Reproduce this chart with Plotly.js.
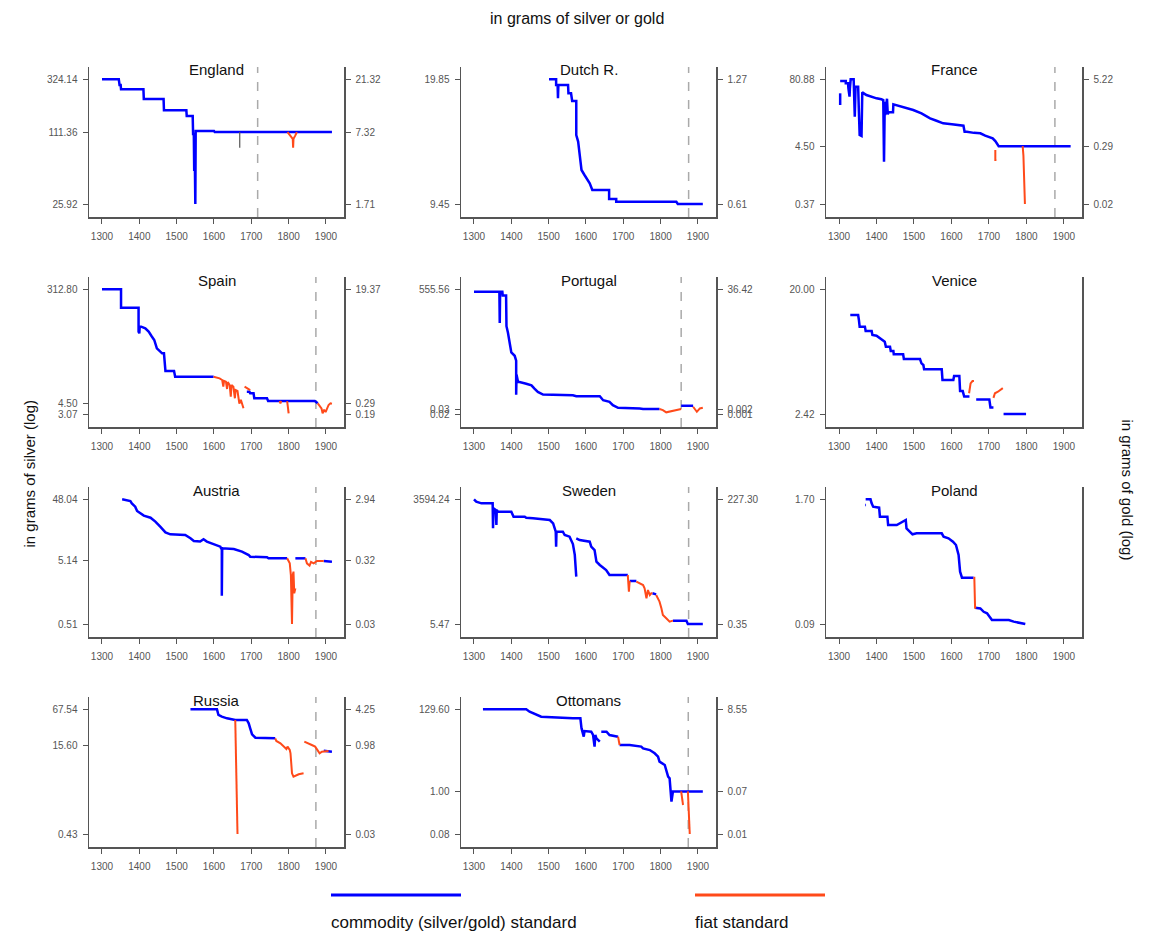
<!DOCTYPE html>
<html><head><meta charset="utf-8">
<script src="https://cdn.plot.ly/plotly-3.0.1.min.js"></script>
<style>html,body{margin:0;padding:0;background:#fff}#chart{width:1153px;height:939px}</style>
</head><body><div id="chart"></div>
<script>
// ---------- DATA (year, grams of silver) ----------
const years = [1300,1400,1500,1600,1700,1800,1900];

const englandCommodity = [[1300,324.14],[1345,324.14],[1347,289],[1350,289],[1351,265],[1411,265],[1412,218],[1465,218],[1466,173],[1526,173],[1527,154],[1543,154],[1544,107],[1546,107],[1547,52],[1549,52],[1550,25.92],[1551,114],[1600,114],[1602,111.36],[1916,111.36]];
const englandOther = [[1669,111.36],[1669,81]];
const englandFiat = [[1797,111.36],[1805,104],[1811,97],[1812,81],[1813,97],[1818,104],[1822,111.36]];
const englandSilverTicks = [324.14,111.36,25.92];
const englandGoldTicks = ['21.32','7.32','1.71'];

const dutchCommodity = [[1501,19.85],[1520,19.85],[1520,19.2],[1524,19.2],[1525,17.74],[1526,19.2],[1552,19.2],[1553,18.27],[1560,18.27],[1563,17.45],[1574,17.45],[1574,14.25],[1579,13.7],[1585,12.16],[1588,11.57],[1596,11.23],[1603,10.97],[1610,10.69],[1617,10.27],[1662,10.27],[1662,9.73],[1681,9.73],[1681,9.58],[1842,9.58],[1846,9.45],[1913,9.45]];
const dutchFiat = [];
const dutchSilverTicks = [19.85,9.45];
const dutchGoldTicks = ['1.27','0.61'];

const franceCommodity = [[1303,44.2],[1303,26.7],null,[1303,75.2],[1318,75.2],[1318,68],[1324,68],[1325,54.8],[1328,38.2],[1329,54.8],[1331,80.88],[1339,80.88],[1340,54],[1342,16.1],[1344,58.9],[1351,58.9],[1353,20],[1355,7.3],[1360,7.0],[1361,20],[1362,46.1],[1373,41.1],[1385,38],[1400,35.6],[1413,34.1],[1418,33],[1420,2.3],[1422,30.8],[1423,17.3],[1428,35],[1430,17.8],[1432,19.4],[1444,19.4],[1445,27.5],[1460,25.5],[1480,23],[1498,21.5],[1520,18.5],[1543,15.0],[1560,13.5],[1578,12.1],[1601,11.6],[1632,10.9],[1635,8.43],[1641,8.43],[1660,8.0],[1677,7.84],[1690,7.09],[1703,6.5],[1710,6.32],[1717,5.6],[1722,5.0],[1726,4.5],[1918,4.5]];
const franceFiat = [[1717,3.82],[1717,2.48],[1720,2.48],null,[1790,4.5],[1792,3.0],[1796,0.37]];
const franceSilverTicks = [80.88,4.50,0.37];
const franceGoldTicks = ['5.22','0.29','0.02'];

const spainCommodity = [[1300,312.8],[1351,312.8],[1351,158.5],[1398,158.5],[1398,65],[1400,61.2],[1401,78.3],[1405,78.3],[1416,73.6],[1425,65.1],[1433,55],[1440,47.8],[1447,35.1],[1455,32],[1461,29.1],[1466,29.1],[1470,15.1],[1493,15.1],[1496,12.26],[1599,12.26],null,[1688,7.03],[1695,7.03],[1697,6.61],[1706,6.61],[1708,5.49],[1742,5.49],[1745,4.97],[1870,4.97],[1878,4.56]];
const spainFiat = [[1599,12.26],[1615,11.5],[1622,10.83],[1625,8.46],[1627,10.5],[1632,10.18],[1635,7.76],[1637,10],[1642,9.0],[1645,5.84],[1647,9],[1652,8.46],[1656,5.5],[1658,7.47],[1663,7.2],[1668,4.5],[1672,5.2],[1679,3.79],null,[1682,8.46],[1690,8.0],[1697,7.47],null,[1776,4.97],[1778,4.56],[1780,4.97],null,[1796,4.97],[1797,4.29],[1800,3.15],null,[1878,4.56],[1882,4.29],[1888,3.79],[1891,3.15],[1895,3.6],[1899,3.3],[1903,3.8],[1907,4.29],[1912,4.56],[1916,4.5]];
const spainSilverTicks = [312.80,4.50,3.07];
const spainGoldTicks = ['19.37','0.29','0.19'];

const portugalCommodity = [[1300,460],[1368,460],[1369,35],[1370,460],[1376,460],[1377,333],[1386,333],[1387,27],[1391,15.7],[1400,3.12],[1409,2.38],[1413,1.59],[1413,0.098],[1414,0.5],[1418,0.274],[1422,0.274],[1440,0.24],[1454,0.21],[1462,0.16],[1471,0.122],[1485,0.0984],[1556,0.0984],[1565,0.0932],[1574,0.0859],[1637,0.0859],[1646,0.0621],[1663,0.0543],[1672,0.0415],[1686,0.0334],[1744,0.0316],[1753,0.03],[1797,0.03],null,[1855,0.0393],[1887,0.0393]];
const portugalFiat = [[1797,0.03],[1806,0.0276],[1815,0.0229],[1824,0.0241],[1833,0.0255],[1842,0.0276],[1855,0.03],null,[1887,0.0362],[1894,0.0276],[1897,0.0241],[1901,0.0276],[1905,0.0316],[1913,0.0334]];
const portugalSilverTicks = [555.56,0.03,0.02];
const portugalGoldTicks = ['36.42','0.002','0.001'];

const veniceCommodity = [[1330,12.95],[1351,12.95],[1353,11.9],[1355,10.63],[1369,10.63],[1371,9.88],[1387,9.88],[1389,9.23],[1400,9.12],[1410,8.7],[1422,8.24],[1425,7.57],[1436,7.57],[1438,7.04],[1445,7.04],[1446,6.65],[1471,6.65],[1473,6.14],[1516,6.14],[1520,5.71],[1525,5.55],[1527,5.16],[1574,5.16],[1576,4.31],[1605,4.31],[1607,4.61],[1621,4.61],[1623,3.57],[1630,3.57],[1634,3.25],[1648,3.25],null,[1666,3.1],[1701,3.1],[1704,2.7],[1712,2.7],null,[1739,2.42],[1799,2.42]];
const veniceFiat = [[1647,3.44],[1651,4.07],[1656,4.23],[1660,4.23],null,[1712,3.18],[1716,3.44],[1724,3.53],[1730,3.64],[1737,3.75]];
const veniceSilverTicks = [20.00,2.42];
const veniceGoldTicks = [];

const austriaCommodity = [[1354,48.04],[1376,45.2],[1380,41.5],[1389,36.8],[1394,31.4],[1403,28.8],[1412,26.5],[1430,24.6],[1443,21.3],[1456,17.7],[1470,14.4],[1483,13.4],[1501,13.4],[1523,13.1],[1537,11.6],[1546,10.5],[1563,10.3],[1572,11.2],[1581,10.3],[1595,9.66],[1617,8.55],[1619,8.05],[1621,8.05],[1621,1.43],[1622,8.05],[1653,7.86],[1675,7.13],[1693,6.31],[1697,5.94],[1742,5.8],[1746,5.59],[1796,5.59],null,[1818,5.59],[1845,5.59],null,[1894,5.07],[1916,4.95]];
const austriaFiat = [[1796,5.59],[1803,4.66],[1806,3.04],[1809,0.51],[1811,3.04],[1813,3.44],[1815,1.56],[1818,1.87],null,[1845,5.59],[1849,4.66],[1856,4.28],[1860,4.9],[1867,4.66],[1876,5.07],[1894,5.07]];
const austriaSilverTicks = [48.04,5.14,0.51];
const austriaGoldTicks = ['2.94','0.32','0.03'];

const swedenCommodity = [[1300,3594],[1306,3184],[1320,2919],[1350,2919],[1351,795],[1352,2250],[1358,2063],[1360,945],[1361,2063],[1364,1891],[1400,1891],[1406,1458],[1436,1458],[1440,1384],[1458,1337],[1503,1226],[1512,1031],[1519,668],[1520,306],[1521,668],[1538,668],[1543,562],[1556,515],[1561,433],[1565,350],[1570,200],[1574,64.2],null,[1574,472],[1583,433],[1610,397],[1614,306],[1623,257],[1628,140],[1637,118],[1654,90.9],[1663,70],[1712,70],null,[1717,51.3],[1735,51.3],null,[1778,27],[1788,25.6],null,[1833,6.51],[1869,6.51],[1873,5.47],[1913,5.47]];
const swedenFiat = [[1712,70],[1715,29.4],[1717,51.3],null,[1735,49.5],[1744,45.4],[1753,41.6],[1757,35],[1762,20.8],[1766,32.1],[1771,24.7],[1775,27],[1778,27],null,[1788,24.7],[1797,17.5],[1802,12.36],[1806,8.74],[1815,7.35],[1824,6.18],[1833,6.51]];
const swedenSilverTicks = [3594.24,5.47];
const swedenGoldTicks = ['227.30','0.35'];

const polandCommodity = [[1370,1.487],[1372,1.487],null,[1371,1.70],[1384,1.70],[1387,1.547],[1391,1.43],[1407,1.397],[1409,1.13],[1429,1.13],[1431,0.928],[1454,0.928],[1462,0.965],[1471,1.02],[1478,1.044],[1480,0.858],[1489,0.793],[1496,0.745],[1507,0.763],[1574,0.763],[1579,0.705],[1592,0.678],[1604,0.627],[1612,0.579],[1619,0.458],[1623,0.309],[1628,0.268],[1659,0.268],null,[1663,0.132],[1666,0.132],[1677,0.13],[1686,0.12],[1695,0.116],[1708,0.0989],[1753,0.0989],[1766,0.0951],[1797,0.09]];
const polandFiat = [[1659,0.268],[1661,0.268],[1663,0.132],[1666,0.132]];
const polandSilverTicks = [1.70,0.09];
const polandGoldTicks = [];

const russiaCommodity = [[1537,67.54],[1608,67.54],[1612,53.7],[1621,50.2],[1635,46.9],[1657,43.8],[1688,43.8],[1693,38.3],[1697,31.3],[1702,24.5],[1711,21.4],[1764,20.8],null,[1894,12.6],[1916,12.1]];
const russiaFiat = [[1657,43.8],[1663,0.43],null,[1764,20.8],[1767,18.7],[1778,17.0],[1787,15.0],[1794,13.5],[1797,14.9],[1803,13.0],[1805,11.3],[1809,5.04],[1813,4.4],[1827,4.84],[1840,5.04],null,[1842,18.2],[1854,17.0],[1862,15.9],[1871,14.9],[1876,13.0],[1883,11.3],[1889,12.1],[1898,12.4],[1907,12.4]];
const russiaSilverTicks = [67.54,15.60,0.43];
const russiaGoldTicks = ['4.25','0.98','0.03'];

const ottomanCommodity = [[1324,129.6],[1440,129.6],[1449,112.8],[1467,96.4],[1480,83.9],[1565,76.0],[1585,76.0],[1588,42],[1592,28.3],[1594,25.6],[1596,35.9],[1614,34.5],[1619,28.3],[1623,14.2],[1625,28.3],[1628,23.2],[1637,19.1],null,[1641,34.5],[1655,34.5],[1663,28.3],[1686,25.6],null,[1690,15.6],[1717,15.6],[1748,14.2],[1753,12.8],[1771,11.6],[1784,9.55],[1793,7.83],[1797,5.82],[1811,4.78],[1815,3.55],[1820,2.39],[1824,2.17],[1829,0.544],[1833,1.0],[1913,1.0]];
const ottomanFiat = [[1686,25.6],[1690,15.6],null,[1855,1.0],[1857,0.7],[1860,0.446],null,[1873,1.0],[1876,0.3],[1878,0.08]];
const ottomanSilverTicks = [129.60,1.00,0.08];
const ottomanGoldTicks = ['8.55','0.07','0.01'];

const panelNames = ['England','Dutch R.','France','Spain','Portugal','Venice','Austria','Sweden','Poland','Russia','Ottomans'];
const standardYears = [1717,1875,1876,1873,1855,null,1873,1875,null,1873,1874];

// ---------- BUILD ----------
const W = 1153, H = 939;
const BLUE = '#0000ff', ORANGE = '#ff4a1a';
const FONT = 'Liberation Sans, Arial, sans-serif';
const colX = [[89,344],[461,716],[826,1082]];
const rowY = [[67,217],[277,427],[487,637],[697,847]];
const xRange = [1265.2,1948.3];

const series = [
  [englandCommodity, englandFiat, englandSilverTicks, englandGoldTicks],
  [dutchCommodity, dutchFiat, dutchSilverTicks, dutchGoldTicks],
  [franceCommodity, franceFiat, franceSilverTicks, franceGoldTicks],
  [spainCommodity, spainFiat, spainSilverTicks, spainGoldTicks],
  [portugalCommodity, portugalFiat, portugalSilverTicks, portugalGoldTicks],
  [veniceCommodity, veniceFiat, veniceSilverTicks, veniceGoldTicks],
  [austriaCommodity, austriaFiat, austriaSilverTicks, austriaGoldTicks],
  [swedenCommodity, swedenFiat, swedenSilverTicks, swedenGoldTicks],
  [polandCommodity, polandFiat, polandSilverTicks, polandGoldTicks],
  [russiaCommodity, russiaFiat, russiaSilverTicks, russiaGoldTicks],
  [ottomanCommodity, ottomanFiat, ottomanSilverTicks, ottomanGoldTicks]
];

function split(pairs){
  const x=[], y=[];
  pairs.forEach(p=>{ if(p===null){x.push(null);y.push(null);} else {x.push(p[0]);y.push(p[1]);} });
  return {x,y};
}

const traces = [], shapes = [], annotations = [];
const layout = {
  width: W, height: H, margin:{l:0,r:0,t:0,b:0},
  paper_bgcolor:'#fff', plot_bgcolor:'#fff', showlegend:false,
  font:{family:FONT, color:'#222'}
};
const tickFont = {family:FONT, size:10, color:'#555'};

series.forEach((s, idx) => {
  const i = idx + 1;
  const col = idx % 3, row = Math.floor(idx / 3);
  const xid = i===1 ? 'x' : 'x'+i;
  const yl = 2*i-1, yr = 2*i;
  const ylid = yl===1 ? 'y' : 'y'+yl;
  const yrid = 'y'+yr;
  const [commodity, fiat, silverTicks, goldTicks] = s;

  const lt = Math.log10(Math.max(...silverTicks)), lb = Math.log10(Math.min(...silverTicks));
  const span = lt - lb;
  const yRange = [lb - span*39/374, lt + span*37/374];

  const [x0,x1] = colX[col], [y0,y1] = rowY[row];
  layout['xaxis'+(i===1?'':i)] = {
    domain:[x0/W, x1/W], range:xRange, anchor:ylid,
    tickvals:years, ticktext:years.map(String), ticks:'outside', ticklen:5, tickwidth:1, tickcolor:'#555',
    showline:true, linecolor:'#555', linewidth:1.5, showgrid:false, zeroline:false,
    tickfont:tickFont, ticklabelstandoff:4, fixedrange:true
  };
  layout['yaxis'+(yl===1?'':yl)] = {
    domain:[1-y1/H, 1-y0/H], type:'log', range:yRange, anchor:xid,
    tickvals:silverTicks, ticktext:silverTicks.map(v=>v.toFixed(2)),
    ticks:'outside', ticklen:5, tickwidth:1, tickcolor:'#555',
    showline:true, linecolor:'#555', linewidth:1.5, showgrid:false, zeroline:false,
    tickfont:tickFont, ticklabelstandoff:3, fixedrange:true
  };
  const hasGold = goldTicks.length > 0;
  layout['yaxis'+yr] = {
    overlaying:ylid, side:'right', anchor:xid, type:'log', range:yRange,
    tickvals: hasGold ? silverTicks : [], ticktext: goldTicks,
    ticks: hasGold ? 'outside' : '', ticklen:5, tickwidth:1, tickcolor:'#555',
    showticklabels: hasGold,
    showline:true, linecolor:'#555', linewidth:1.5, showgrid:false, zeroline:false,
    tickfont:tickFont, ticklabelstandoff:3, fixedrange:true
  };
  // empty trace so the right-hand (gold) axis subplot is created
  traces.push({x:[], y:[], type:'scatter', mode:'lines', xaxis:xid, yaxis:yrid, hoverinfo:'skip'});

  const c = split(commodity);
  traces.push({x:c.x, y:c.y, mode:'lines', line:{color:BLUE, width:2.5}, xaxis:xid, yaxis:ylid, hoverinfo:'skip', connectgaps:false});
  if (fiat.length){
    const f = split(fiat);
    traces.push({x:f.x, y:f.y, mode:'lines', line:{color:ORANGE, width:2}, xaxis:xid, yaxis:ylid, hoverinfo:'skip', connectgaps:false});
  }
  if (idx === 0){
    const o = split(englandOther);
    traces.push({x:o.x, y:o.y, mode:'lines', line:{color:'#555', width:1.2}, xaxis:xid, yaxis:ylid, hoverinfo:'skip'});
  }
  const sy = standardYears[idx];
  if (sy){
    shapes.push({type:'line', xref:xid, yref:ylid+' domain', x0:sy, x1:sy, y0:0, y1:1,
      line:{color:'#aaa', width:1.5, dash:'dash'}, layer:'below'});
  }
  annotations.push({xref:xid+' domain', yref:ylid+' domain', x:0.5, y:0.98, yanchor:'middle',
    text:panelNames[idx], showarrow:false, font:{family:FONT, size:15, color:'#111'}});
});

// figure titles
annotations.push({xref:'paper', yref:'paper', x:577/W, y:1-18/H, text:'in grams of silver or gold', showarrow:false, font:{family:FONT,size:16,color:'#111'}, yanchor:'middle'});
annotations.push({xref:'paper', yref:'paper', x:18/W, y:1-474/H, text:'in grams of silver (log)', showarrow:false, textangle:-90, font:{family:FONT,size:15,color:'#111'}});
annotations.push({xref:'paper', yref:'paper', x:1138/W, y:1-490/H, text:'in grams of gold (log)', showarrow:false, textangle:90, font:{family:FONT,size:15,color:'#111'}});

// legend
shapes.push({type:'line', xref:'paper', yref:'paper', x0:331/W, x1:461/W, y0:1-895/H, y1:1-895/H, line:{color:BLUE,width:3}});
shapes.push({type:'line', xref:'paper', yref:'paper', x0:695/W, x1:825/W, y0:1-895/H, y1:1-895/H, line:{color:ORANGE,width:3}});
annotations.push({xref:'paper', yref:'paper', x:329/W, y:1-922/H, xanchor:'left', yanchor:'middle', text:'commodity (silver/gold) standard', showarrow:false, font:{family:FONT,size:17,color:'#111'}});
annotations.push({xref:'paper', yref:'paper', x:693/W, y:1-922/H, xanchor:'left', yanchor:'middle', text:'fiat standard', showarrow:false, font:{family:FONT,size:17,color:'#111'}});

layout.shapes = shapes;
layout.annotations = annotations;

Plotly.newPlot('chart', traces, layout, {staticPlot:true, displayModeBar:false});
</script>
</body></html>
